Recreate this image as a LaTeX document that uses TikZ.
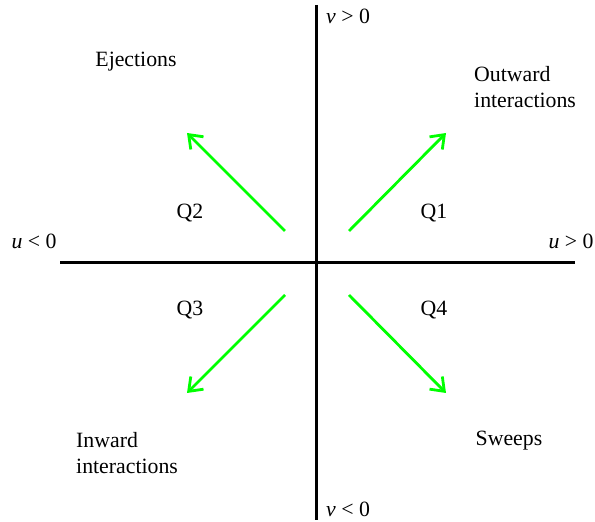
\documentclass[tikz,border=0pt]{standalone}
\usepackage{fontspec}
\setmainfont{Liberation Serif}
\usetikzlibrary{arrows.meta,positioning}

\begin{document}
\begin{tikzpicture}[x=1pt, y=1pt, >={Straight Barb[length=12pt,width=18pt]},
  axis/.style={line width=3pt, black},
  flow/.style={->, line width=2.8pt, green},
  lbl/.style={inner sep=0pt, font=\fontsize{21.8}{25.5}\selectfont},
  quad/.style={lbl},
  event/.style={lbl, align=left}]
  \useasboundingbox (0,0) rectangle (595,522);

  % axes
  \coordinate (west) at (60,259);
  \coordinate (east) at (575,259);
  \coordinate (north) at (316,517);
  \coordinate (south) at (316,2);
  \draw [axis] (west) -- (east);
  \draw [axis] (north) -- (south);

  \node [lbl, anchor=west] (vpos) at (326,506) {\textit{v} > 0};
  \node [lbl, anchor=west] (vneg) at (326,13) {\textit{v} < 0};
  \node [lbl] (uneg) at (34,281) {\textit{u} < 0};
  \node [lbl] (upos) at (571,281) {\textit{u} > 0};

  % quadrants
  \node [quad] (q1) at (434,309) {Q1};
  \node [quad] (q2) at (190,309) {Q2};
  \node [quad] (q3) at (190,212) {Q3};
  \node [quad] (q4) at (434,212) {Q4};

  \node [event] (eject) at (136,460) {Ejections};
  \node [event, anchor=west] (outw) at (474,435) {Outward\\interactions};
  \node [event, anchor=west] (inw) at (76,69) {Inward\\interactions};
  \node [event] (sweep) at (509,81) {Sweeps};

  % green arrows
  \coordinate (a1) at (349,291);
  \coordinate (b1) at (446,389);
  \coordinate (a2) at (285,291);
  \coordinate (b2) at (187,389);
  \coordinate (a3) at (285,227);
  \coordinate (b3) at (187,129);
  \coordinate (a4) at (349,227);
  \coordinate (b4) at (446,129);
  \draw [flow] (a1) -- (b1);
  \draw [flow] (a2) -- (b2);
  \draw [flow] (a3) -- (b3);
  \draw [flow] (a4) -- (b4);
\end{tikzpicture}
\end{document}
